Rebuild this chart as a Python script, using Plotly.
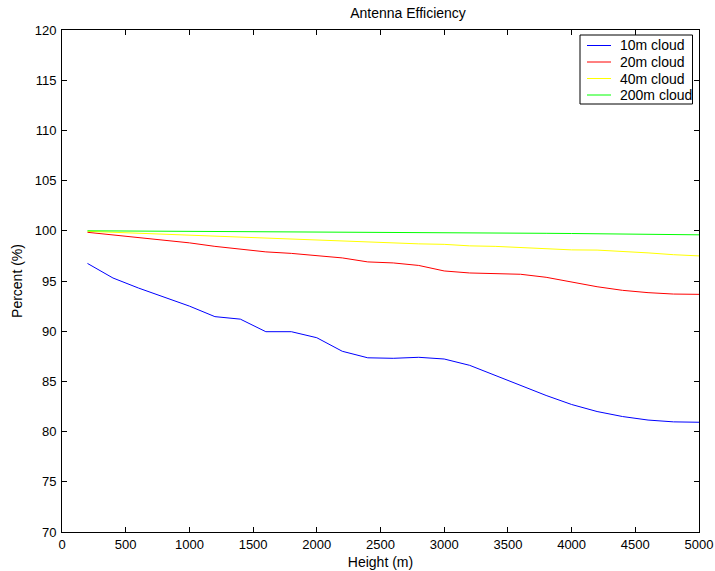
import plotly.graph_objects as go

heights = [200, 400, 600, 800, 1000, 1200, 1400, 1600, 1800, 2000, 2200, 2400, 2600,
           2800, 3000, 3200, 3400, 3600, 3800, 4000, 4200, 4400, 4600, 4800, 5000]

cloud_10m = [96.75, 95.3, 94.3, 93.4, 92.5, 91.45, 91.2, 89.95, 89.95, 89.35, 88.0, 87.35, 87.3,
             87.4, 87.23, 86.6, 85.6, 84.6, 83.6, 82.7, 82.0, 81.5, 81.15, 80.97, 80.93]
cloud_20m = [99.85, 99.6, 99.35, 99.1, 98.8, 98.45, 98.15, 97.9, 97.75, 97.5, 97.3, 96.9, 96.8,
             96.55, 96.0, 95.8, 95.77, 95.67, 95.37, 94.9, 94.43, 94.07, 93.84, 93.7, 93.67]
cloud_40m = [99.95, 99.85, 99.75, 99.65, 99.55, 99.45, 99.35, 99.25, 99.15, 99.05, 98.95, 98.85, 98.8,
             98.7, 98.65, 98.5, 98.45, 98.33, 98.17, 98.1, 98.08, 97.97, 97.8, 97.62, 97.5]
cloud_200m = [100.0, 99.99, 99.97, 99.95, 99.93, 99.91, 99.89, 99.87, 99.86, 99.85, 99.84, 99.83, 99.82,
              99.81, 99.8, 99.79, 99.78, 99.77, 99.75, 99.73, 99.71, 99.69, 99.66, 99.63, 99.6]

series_names = ["10m cloud", "20m cloud", "40m cloud", "200m cloud"]
series_values = [cloud_10m, cloud_20m, cloud_40m, cloud_200m]
series_colors = ["#0000ff", "#ff0000", "#ffff00", "#00ff00"]

x_ticks = [0, 500, 1000, 1500, 2000, 2500, 3000, 3500, 4000, 4500, 5000]
y_ticks = [70, 75, 80, 85, 90, 95, 100, 105, 110, 115, 120]

W, H = 715, 571
PLOT_L, PLOT_R, PLOT_T, PLOT_B = 62, 699, 30, 532
ML, MR, MT, MB = PLOT_L, W - PLOT_R, PLOT_T, H - PLOT_B
PW, PH = PLOT_R - PLOT_L, PLOT_B - PLOT_T


def px_x(p):
    return (p - PLOT_L) / PW


def px_y(p):
    return (PLOT_B - p) / PH


fig = go.Figure()
for name, vals, col in zip(series_names, series_values, series_colors):
    fig.add_trace(go.Scatter(x=heights, y=vals, mode="lines", name=name,
                             line=dict(color=col, width=1), showlegend=False))

# MATLAB-style legend box
shapes = [dict(type="rect", xref="paper", yref="paper",
               x0=px_x(580), x1=px_x(692.5), y0=px_y(104), y1=px_y(35),
               line=dict(color="black", width=1), fillcolor="white", layer="above")]
annotations = []
row0, row_gap = 45.5, 16.5
for i, (name, col) in enumerate(zip(series_names, series_colors)):
    yy = px_y(row0 + i * row_gap)
    shapes.append(dict(type="line", xref="paper", yref="paper",
                       x0=px_x(587), x1=px_x(611), y0=yy, y1=yy,
                       line=dict(color=col, width=1), layer="above"))
    annotations.append(dict(text=name, xref="paper", yref="paper", x=px_x(618), y=yy,
                            xanchor="left", yanchor="middle", showarrow=False,
                            font=dict(size=14, color="black")))

axis_common = dict(showgrid=False, zeroline=False, showline=True, linecolor="black",
                   linewidth=1, mirror="ticks", ticks="inside", ticklen=5,
                   tickcolor="black", tickfont=dict(size=13, color="black"),
                   automargin=False)

fig.update_layout(
    width=W, height=H,
    paper_bgcolor="white", plot_bgcolor="white",
    font=dict(family="Liberation Sans, Arial, sans-serif", size=14, color="black"),
    margin=dict(l=ML, r=MR, t=MT, b=MB, autoexpand=False),
    title=dict(text="Antenna Efficiency", x=408 / W, xanchor="center",
               y=1 - 13 / H, yanchor="middle", font=dict(size=14)),
    xaxis=dict(range=[0, 5000], tickvals=x_ticks,
               title=dict(text="Height (m)", standoff=6, font=dict(size=14)), **axis_common),
    yaxis=dict(range=[70, 120], tickvals=y_ticks, ticklabelstandoff=2,
               title=dict(text="Percent (%)", standoff=8, font=dict(size=14)), **axis_common),
    shapes=shapes,
    annotations=annotations,
    showlegend=False,
)

fig.write_html("out.html",
               config={"displayModeBar": False},
               post_script="document.body.style.margin='0';document.body.style.overflow='hidden';")
